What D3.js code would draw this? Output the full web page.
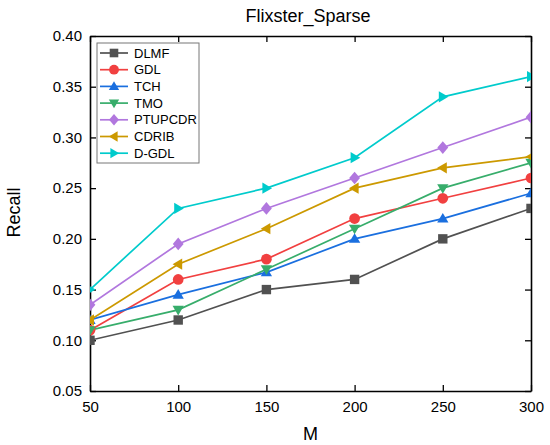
<!DOCTYPE html>
<html><head><meta charset="utf-8">
<script src="https://cdn.jsdelivr.net/npm/d3@7"></script>
<style>body{margin:0;background:#fff}svg{display:block;font-family:Arial,"Liberation Sans",sans-serif}</style>
</head><body>
<svg id="c" width="550" height="445"></svg>
<script>
const xValues = [50, 100, 150, 200, 250, 300];
const seriesNames = ["DLMF", "GDL", "TCH", "TMO", "PTUPCDR", "CDRIB", "D-GDL"];
const DLMF    = [0.100, 0.120, 0.150, 0.160, 0.200, 0.230];
const GDL     = [0.110, 0.160, 0.180, 0.220, 0.240, 0.260];
const TCH     = [0.120, 0.145, 0.167, 0.200, 0.220, 0.245];
const TMO     = [0.110, 0.130, 0.170, 0.210, 0.250, 0.275];
const PTUPCDR = [0.135, 0.195, 0.230, 0.260, 0.290, 0.320];
const CDRIB   = [0.120, 0.175, 0.210, 0.250, 0.270, 0.281];
const DGDL    = [0.150, 0.230, 0.250, 0.280, 0.340, 0.360];
const yTicks = [0.05, 0.10, 0.15, 0.20, 0.25, 0.30, 0.35, 0.40];
const xTicks = [50, 100, 150, 200, 250, 300];
const seriesValues = [DLMF, GDL, TCH, TMO, PTUPCDR, CDRIB, DGDL];
const colors = ["#515151", "#F14040", "#1A6FDF", "#37AD6B", "#B177DE", "#CC9900", "#00CBCC"];
const shapes = ["square", "circle", "up", "down", "diamond", "left", "right"];

const svg = d3.select("#c");
const L = 90, R = 531, T = 36, B = 391;
const x = d3.scaleLinear().domain([50, 300]).range([L, R]);
const y = d3.scaleLinear().domain([0.05, 0.40]).range([B, T]);

function markerPath(s, r) {
  switch (s) {
    case "square": return `M${-r},${-r}H${r}V${r}H${-r}Z`;
    case "circle": return d3.symbol(d3.symbolCircle, Math.PI * r * r * 1.3)();
    case "up": return `M0,${-r*1.2}L${r*1.2},${r*0.85}L${-r*1.2},${r*0.85}Z`;
    case "down": return `M0,${r*1.2}L${r*1.2},${-r*0.85}L${-r*1.2},${-r*0.85}Z`;
    case "diamond": return `M0,${-r*1.35}L${r*1.15},0L0,${r*1.35}L${-r*1.15},0Z`;
    case "left": return `M${-r*1.2},0L${r*0.85},${-r*1.2}L${r*0.85},${r*1.2}Z`;
    case "right": return `M${r*1.2},0L${-r*0.85},${-r*1.2}L${-r*0.85},${r*1.2}Z`;
  }
}

svg.append("defs").append("clipPath").attr("id", "clip")
  .append("rect").attr("x", L).attr("y", T).attr("width", R - L).attr("height", B - T);

// axes
const axB = svg.append("g").attr("transform", `translate(0,${B})`)
  .call(d3.axisBottom(x).tickValues(xTicks).tickSizeInner(-6).tickSizeOuter(0).tickPadding(10));
const axL = svg.append("g").attr("transform", `translate(${L},0)`)
  .call(d3.axisLeft(y).tickValues(yTicks).tickFormat(d3.format(".2f")).tickSizeInner(-6).tickSizeOuter(0).tickPadding(8));
const axT = svg.append("g").attr("transform", `translate(0,${T})`)
  .call(d3.axisTop(x).tickValues(xTicks).tickSizeInner(-6).tickSizeOuter(0).tickFormat(""));
const axR = svg.append("g").attr("transform", `translate(${R},0)`)
  .call(d3.axisRight(y).tickValues(yTicks).tickSizeInner(-6).tickSizeOuter(0).tickFormat(""));
[axB, axL, axT, axR].forEach(g => {
  g.select(".domain").attr("stroke", "#000").attr("stroke-width", 1.6);
  g.selectAll(".tick line").attr("stroke", "#000").attr("stroke-width", 1.3);
  g.selectAll(".tick text").attr("font-size", 15).attr("fill", "#000").attr("font-family", "Arial, 'Liberation Sans', sans-serif");
});

// series
const plot = svg.append("g").attr("clip-path", "url(#clip)");
const line = d3.line().x((d, i) => x(xValues[i])).y(d => y(d));
seriesValues.forEach((vals, k) => {
  plot.append("path").attr("d", line(vals)).attr("fill", "none")
    .attr("stroke", colors[k]).attr("stroke-width", 1.7);
});
seriesValues.forEach((vals, k) => {
  plot.selectAll(null).data(vals).enter().append("path")
    .attr("d", markerPath(shapes[k], 4.7))
    .attr("transform", (d, i) => `translate(${x(xValues[i])},${y(d)})`)
    .attr("fill", colors[k]);
});

// legend
const lg = svg.append("g");
lg.append("rect").attr("x", 97).attr("y", 43).attr("width", 102).attr("height", 120)
  .attr("fill", "#fff").attr("stroke", "#777").attr("stroke-width", 1);
seriesNames.forEach((n, k) => {
  const yy = 53 + k * 16.7;
  lg.append("line").attr("x1", 100).attr("x2", 128).attr("y1", yy).attr("y2", yy)
    .attr("stroke", colors[k]).attr("stroke-width", 1.7);
  lg.append("path").attr("d", markerPath(shapes[k], 4.3))
    .attr("transform", `translate(114,${yy})`).attr("fill", colors[k]);
  lg.append("text").attr("x", 134).attr("y", yy).attr("dy", "0.36em")
    .attr("font-size", 13).attr("fill", "#000").text(n);
});

// titles
svg.append("text").attr("x", 308).attr("y", 22).attr("text-anchor", "middle")
  .attr("font-size", 18).attr("fill", "#000").text("Flixster_Sparse");
svg.append("text").attr("x", 310.5).attr("y", 440).attr("text-anchor", "middle")
  .attr("font-size", 18).attr("fill", "#000").text("M");
svg.append("text").attr("transform", `translate(20,212.5) rotate(-90)`)
  .attr("text-anchor", "middle").attr("font-size", 18).attr("fill", "#000").text("Recall");
</script>
</body></html>
